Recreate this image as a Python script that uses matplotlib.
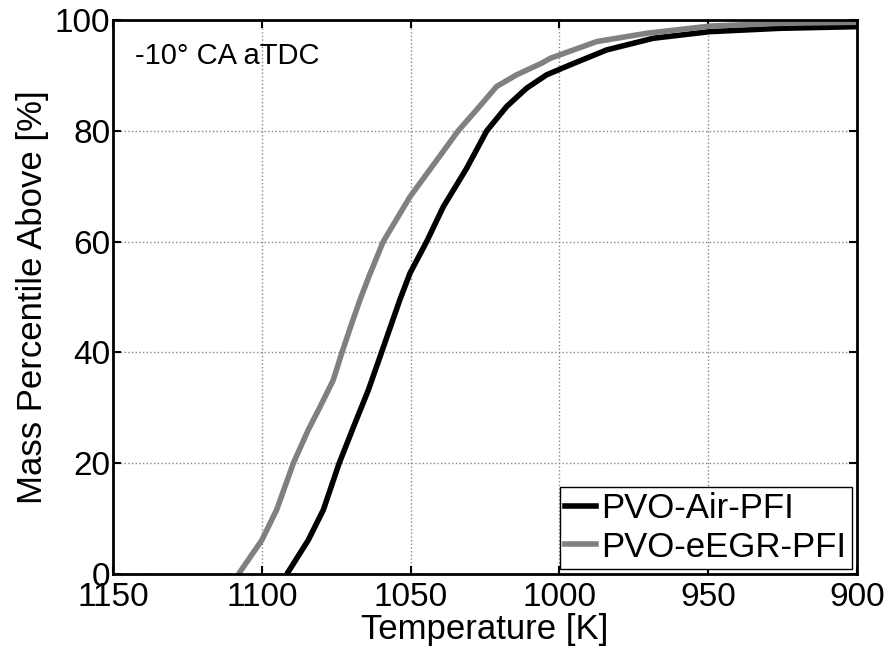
import matplotlib
matplotlib.use("Agg")
import matplotlib.pyplot as plt

plt.rcParams['font.family'] = ['Liberation Sans', 'DejaVu Sans']

# PVO-Air-PFI (black)
air_pct = [0.4, 6.1, 11.6, 20.0, 27.2, 33.2, 40.1, 45.2, 49.5, 54.3, 60.0, 66.3, 73.2, 80.0,
           84.4, 87.7, 90.1, 91.9, 94.6, 96.7, 97.9, 98.5, 98.8]
air_temp = [1091.1, 1084.4, 1079.3, 1074.0, 1068.7, 1064.2, 1059.7, 1056.4, 1053.6, 1050.2,
            1044.6, 1039.0, 1031.2, 1024.4, 1017.7, 1011.0, 1004.3, 996.4, 984.1, 968.5,
            949.4, 925.9, 900.0]

# PVO-eEGR-PFI (gray)
egr_pct = [0.4, 6.1, 11.6, 20.0, 26.0, 30.2, 35.0, 40.1, 45.2, 49.5, 53.7, 60.0, 68.1, 74.7,
           80.0, 83.8, 88.0, 90.1, 92.2, 93.1, 96.1, 97.6, 98.9, 99.4, 99.6]
egr_temp = [1107.3, 1100.0, 1095.0, 1089.4, 1084.4, 1080.4, 1076.0, 1073.0, 1069.8, 1067.0,
            1064.0, 1059.2, 1050.2, 1041.2, 1034.0, 1027.8, 1021.1, 1014.4, 1006.0, 1003.0,
            987.5, 970.7, 949.4, 925.9, 900.0]

x_ticks = [1150, 1100, 1050, 1000, 950, 900]
y_ticks = [0, 20, 40, 60, 80, 100]

fig = plt.figure(figsize=(8.91, 6.56), dpi=100)
ax = fig.add_axes([113/891, 1-574/656, (857-113)/891, (574-20)/656])

ax.plot(air_temp, air_pct, color='black', lw=4.0, label='PVO-Air-PFI', solid_joinstyle='round')
ax.plot(egr_temp, egr_pct, color='#808080', lw=4.0, label='PVO-eEGR-PFI', solid_joinstyle='round')

ax.set_xlim(1150, 900)
ax.set_ylim(0, 100)
ax.set_xticks(x_ticks)
ax.set_yticks(y_ticks)
ax.tick_params(direction='in', top=True, right=True, length=6, width=1.5, labelsize=24)
ax.tick_params(axis='x', pad=6)
ax.tick_params(axis='y', pad=2)
ax.grid(True, color='#888888', linestyle=':', linewidth=1.0)
for s in ax.spines.values():
    s.set_linewidth(2)

ax.set_xlabel('Temperature [K]', fontsize=25, labelpad=0)
ax.set_ylabel('Mass Percentile Above [%]', fontsize=25, labelpad=4)

ax.text(0.03, 0.96, '-10\u00b0 CA aTDC', transform=ax.transAxes, fontsize=21, va='top', ha='left')

leg = ax.legend(loc='lower right', fontsize=25, handlelength=0.9, handletextpad=0.15,
                borderpad=0.15, labelspacing=0.15, fancybox=False, framealpha=1,
                edgecolor='black', borderaxespad=0.15)
leg.get_frame().set_linewidth(1.0)

fig.savefig('out.png', dpi=100)
